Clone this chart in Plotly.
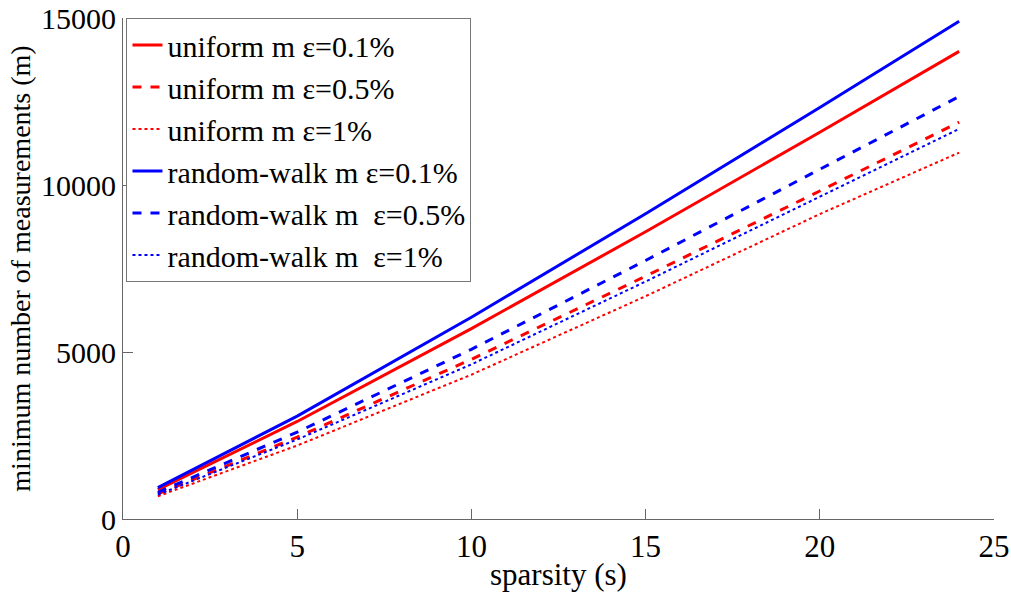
import plotly.graph_objects as go

sparsity = [1, 5, 10, 15, 20, 24]
uniform_01 = [880, 2920, 5700, 8600, 11580, 14000]
uniform_05 = [750, 2450, 4780, 7270, 9820, 11880]
uniform_1 = [680, 2200, 4320, 6670, 9130, 10970]
rw_01 = [940, 3080, 6040, 9140, 12320, 14900]
rw_05 = [800, 2600, 5080, 7740, 10470, 12650]
rw_1 = [730, 2380, 4630, 7110, 9650, 11680]

y_ticks = [0, 5000, 10000, 15000]
y_ticktext = ["0", "5000", "10000", "15000"]
x_ticks = [0, 5, 10, 15, 20, 25]

names = ["uniform m ε=0.1%", "uniform m ε=0.5%", "uniform m ε=1%",
         "random-walk m ε=0.1%", "random-walk m \u00a0ε=0.5%", "random-walk m \u00a0ε=1%"]
series = [uniform_01, uniform_05, uniform_1, rw_01, rw_05, rw_1]
colors = ["#ff0000", "#ff0000", "#ff0000", "#0000ff", "#0000ff", "#0000ff"]
dashes = ["solid", "dash", "dot", "solid", "dash", "dot"]
widths = [3, 3, 2, 3, 3, 2]

fig = go.Figure()
for n, ys, c, d, w in zip(names, series, colors, dashes, widths):
    fig.add_trace(go.Scatter(x=sparsity, y=ys, mode="lines", name=n,
                             line=dict(color=c, dash=d, width=w)))

font = "Liberation Serif"
fig.update_layout(
    width=1011, height=592,
    margin=dict(l=123, r=17, t=18, b=73),
    paper_bgcolor="white", plot_bgcolor="white",
    font=dict(family=font, size=31, color="black"),
    showlegend=True,
    legend=dict(x=0.004, y=1.0, xanchor="left", yanchor="top",
                bgcolor="white", bordercolor="#777", borderwidth=1,
                font=dict(family=font, size=30, color="black"), itemwidth=30,
                tracegroupgap=0),
    xaxis=dict(range=[0, 25], tickvals=x_ticks, automargin=False,
               showline=True, linecolor="#666", linewidth=1,
               ticks="inside", ticklen=10, tickcolor="#666",
               tickfont=dict(family=font, size=31, color="black"),
               ticklabeloverflow="allow",
               showgrid=False, zeroline=False,
               title=dict(text="sparsity (s)", standoff=0,
                          font=dict(family=font, size=31, color="black"))),
    yaxis=dict(range=[0, 15000], tickvals=y_ticks, ticktext=y_ticktext,
               automargin=False,
               showline=True, linecolor="#666", linewidth=1,
               ticks="inside", ticklen=10, tickcolor="#666",
               tickfont=dict(family=font, size=30, color="black"),
               ticklabeloverflow="allow",
               showgrid=False, zeroline=False,
               title=dict(text="minimum number of measurements (m)", standoff=2,
                          font=dict(family=font, size=28, color="black"))),
)

fig.write_html("out.html")
